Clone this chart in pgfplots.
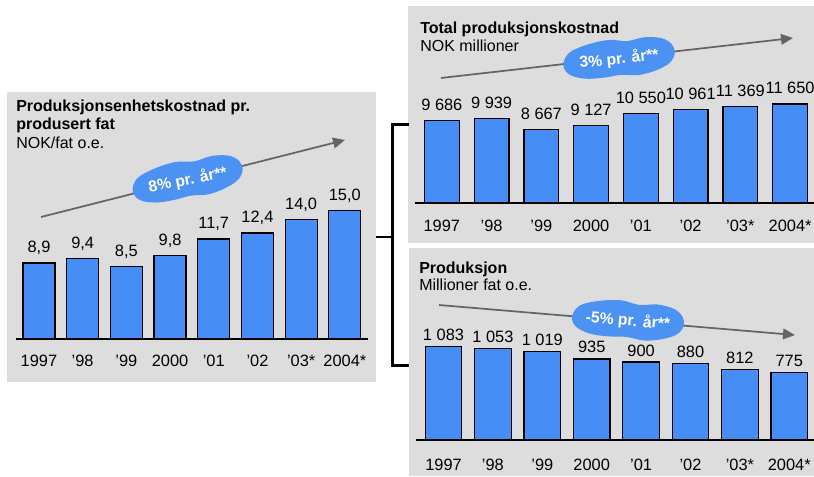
\documentclass[border=0pt]{standalone}
\usepackage{fontspec}
\setmainfont{Liberation Sans}
\usepackage{pgfplots}
\pgfplotsset{compat=1.18}
\usetikzlibrary{arrows.meta}

\definecolor{barblue}{RGB}{70,142,245}
\definecolor{cloudblue}{RGB}{76,146,242}
\definecolor{panelgray}{RGB}{221,221,221}
\definecolor{arrowgray}{RGB}{100,100,100}

\pgfplotsset{
  panel/.style={
    scale only axis, clip=false, anchor=south west,
    ybar, ymin=0, enlargelimits=false,
    axis y line=none, axis x line*=bottom,
    x axis line style={line width=2pt},
    xtick={0,...,7},
    xticklabels={1997,’98,’99,2000,’01,’02,’03*,2004*},
    major tick length=0pt,
    xticklabel style={anchor=base, font=\fontsize{12.3}{14}\selectfont},
    nodes near coords,
    nodes near coords style={anchor=base, inner sep=0pt, text=black, font=\fontsize{12.3}{14}\selectfont},
    /pgf/number format/assume math mode=true,
  },
  bars/.style={fill=barblue, draw=black, line width=0.9pt},
}

% hand-drawn looking badge with rotated bold white text
\newcommand{\badge}[3]{%
  \begin{scope}[shift={#1}, rotate=#2]
    \fill[cloudblue] plot[smooth cycle, tension=0.6] coordinates {
      (-56,-4) (-50,-12) (-36,-17) (-18,-18) (0,-17) (18,-19) (36,-16) (50,-10)
      (56,-1) (54,8) (45,15) (28,18) (10,16) (-8,19) (-28,17) (-46,12) (-54,5)};
    \node[transform shape, inner sep=0pt, text=white,
          font=\fontsize{11.8}{13}\selectfont\bfseries] at (0,-1) {#3};
  \end{scope}}

\begin{document}
\fontsize{12}{14}\selectfont
\begin{tikzpicture}[x=0.75pt,y=0.75pt,font=\fontsize{12}{14}\selectfont]
\path[use as bounding box] (0,0) rectangle (814,476);

% panel backgrounds
\fill[panelgray] (7,94) rectangle (376,384);
\fill[panelgray] (408,233) rectangle (814,470);
\fill[panelgray] (409,0) rectangle (814,228);

% bracket joining the panels
\draw[line width=2.25pt] (409,352) -- (392,352) -- (392,111) -- (409,111);
\draw[line width=1.1pt] (376,239) -- (392,239);

% titles
\node[anchor=base west, inner sep=0pt, font=\fontsize{12}{14}\selectfont\bfseries] at (16,364.3) {Produksjonsenhetskostnad pr.};
\node[anchor=base west, inner sep=0pt, font=\fontsize{12}{14}\selectfont\bfseries] at (16,346.7) {produsert fat};
\node[anchor=base west, inner sep=0pt] at (16,327.7) {NOK/fat o.e.};

\node[anchor=base west, inner sep=0pt, font=\fontsize{12}{14}\selectfont\bfseries] at (420,442) {Total produksjonskostnad};
\node[anchor=base west, inner sep=0pt] at (420,424.3) {NOK millioner};

\node[anchor=base west, inner sep=0pt, font=\fontsize{12}{14}\selectfont\bfseries] at (419,202.7) {Produksjon};
\node[anchor=base west, inner sep=0pt] at (419,185.3) {Millioner fat o.e.};

% trend arrows
\draw[arrowgray, line width=1.3pt, -{Triangle[length=9pt,width=8pt]}] (41,259) -- (345,336);
\draw[arrowgray, line width=1.3pt, -{Triangle[length=9pt,width=8pt]}] (441,398) -- (793,438);
\draw[arrowgray, line width=1.3pt, -{Triangle[length=9pt,width=8pt]}] (439,171) -- (795,141);

% growth-rate badges
\badge{(187.5,297)}{11}{8\% pr. år**}
\badge{(619,418)}{6}{3\% pr. år**}
\badge{(628,156)}{-5}{-5\% pr. år**}

% unit cost per barrel
\begin{axis}[panel, at={(12pt,102.75pt)}, width=264pt, height=102.6pt,
  xmin=-0.526, xmax=7.53, ymax=16, bar width=24pt,
  x axis line style={line width=1.5pt},
  xticklabel style={yshift=-20.25pt},
  nodes near coords style={yshift=7.5pt},
  /pgf/number format/.cd, fixed, fixed zerofill, precision=1, use comma]
\addplot[bars] coordinates {(0,8.9) (1,9.4) (2,8.5) (3,9.8) (4,11.7) (5,12.4) (6,14.0) (7,15.0)};
\end{axis}

% total production cost
\begin{axis}[panel, at={(311.25pt,204.75pt)}, width=299.25pt, height=76.5pt,
  xmin=-0.54, xmax=7.48, ymax=12000, bar width=26pt,
  xticklabel style={yshift=-21.5pt},
  nodes near coords style={yshift=7.5pt},
  /pgf/number format/.cd, fixed, precision=0, 1000 sep={\ }]
\addplot[bars] coordinates {(0,9686) (1,9939) (2,8667) (3,9127) (4,10550) (5,10961) (6,11369) (7,11650)};
\end{axis}

% production volume
\begin{axis}[panel, at={(312pt,27pt)}, width=298.5pt, height=78pt,
  xmin=-0.557, xmax=7.5, ymax=1200, bar width=27.5pt,
  xticklabel style={yshift=-22.5pt},
  nodes near coords style={yshift=4.5pt},
  /pgf/number format/.cd, fixed, precision=0, 1000 sep={\ }]
\addplot[bars] coordinates {(0,1083) (1,1053) (2,1019) (3,935) (4,900) (5,880) (6,812) (7,775)};
\end{axis}
\end{tikzpicture}
\end{document}
